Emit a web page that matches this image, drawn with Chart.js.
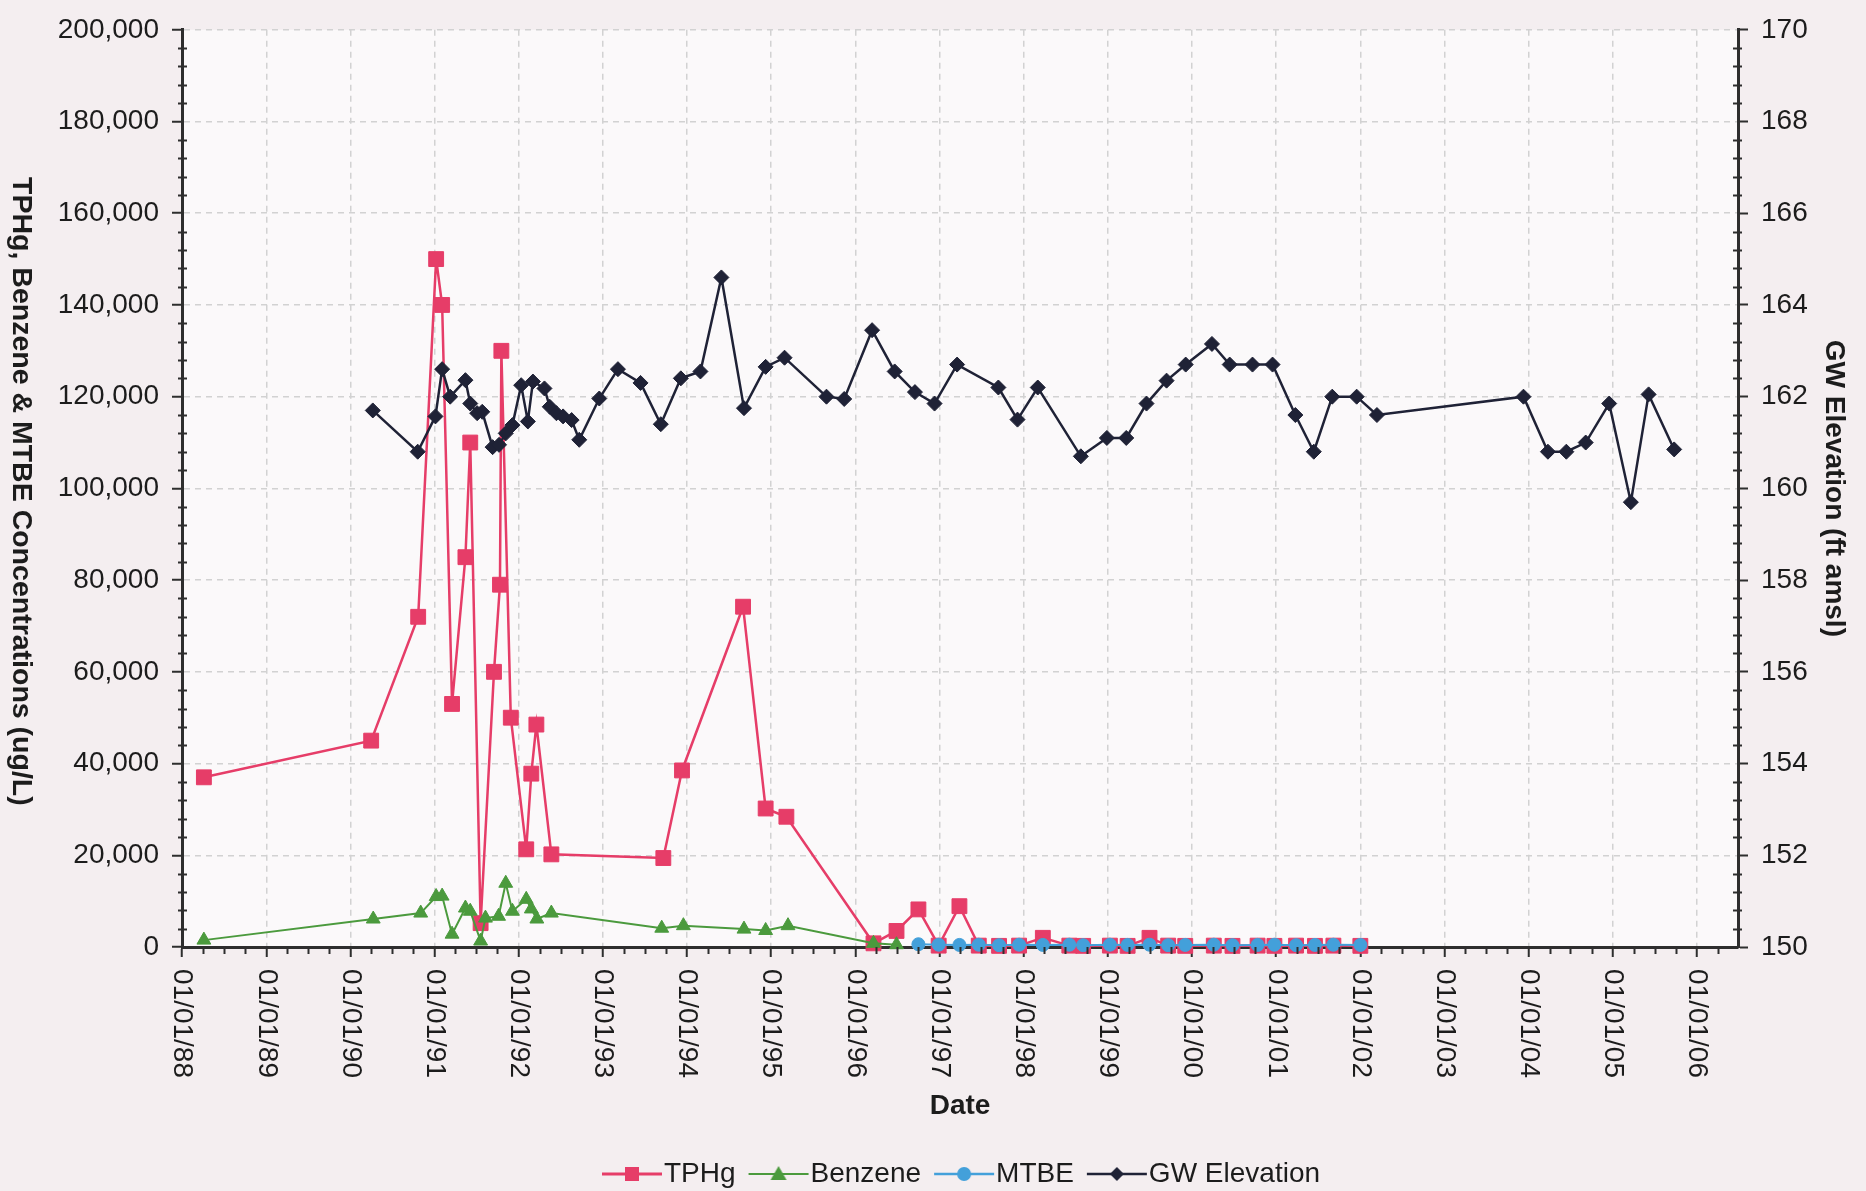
<!DOCTYPE html>
<html><head><meta charset="utf-8">
<script src="https://cdn.jsdelivr.net/npm/chart.js@4.4.1/dist/chart.umd.min.js"></script>
<style>html,body{margin:0;padding:0;background:#f4eef0;}canvas{display:block;}</style>
</head><body>
<canvas id="c" width="1866" height="1191"></canvas>
<script>
// ---------------- DATA ----------------
const xTickLabels = ['01/01/88','01/01/89','01/01/90','01/01/91','01/01/92','01/01/93','01/01/94','01/01/95','01/01/96','01/01/97','01/01/98','01/01/99','01/01/00','01/01/01','01/01/02','01/01/03','01/01/04','01/01/05','01/01/06'];
const concTickLabels = ['0','20,000','40,000','60,000','80,000','100,000','120,000','140,000','160,000','180,000','200,000'];
const elevTickLabels = ['150','152','154','156','158','160','162','164','166','168','170'];

const tphgDates = ['1988-04-05','1990-04-01','1990-10-22','1991-01-08','1991-02-03','1991-03-18','1991-05-15','1991-06-05','1991-07-20','1991-09-16','1991-10-12','1991-10-18','1991-11-28','1992-02-03','1992-02-25','1992-03-18','1992-05-22','1993-09-20','1993-12-10','1994-09-01','1994-12-08','1995-03-08','1996-03-20','1996-06-28','1996-10-01','1996-12-28','1997-03-28','1997-06-20','1997-09-16','1997-12-12','1998-03-25','1998-07-18','1998-09-16','1999-01-10','1999-03-28','1999-07-01','1999-09-20','1999-12-03','2000-04-05','2000-06-25','2000-10-12','2000-12-24','2001-03-28','2001-06-18','2001-09-06','2002-01-01'];
const tphgValues = [37000,45000,72000,150000,140000,53000,85000,110000,5200,60000,79000,130000,50000,21300,37800,48500,20200,19400,38500,74200,30200,28400,800,3500,8200,300,8900,300,250,300,2000,300,250,300,250,2000,300,250,300,250,300,250,300,250,300,250];

const benzeneDates = ['1988-04-05','1990-04-10','1990-11-02','1991-01-08','1991-02-03','1991-03-18','1991-05-15','1991-06-05','1991-07-20','1991-08-10','1991-10-06','1991-11-06','1991-12-05','1992-02-03','1992-02-25','1992-03-20','1992-05-22','1993-09-13','1993-12-16','1994-09-05','1994-12-08','1995-03-15','1996-03-20','1996-06-28'];
const benzeneValues = [1500,6100,7400,11000,11100,2800,8500,7800,1300,6300,6700,13900,7800,10400,8300,6100,7400,4100,4650,3900,3600,4650,800,500];

const mtbeDates = ['1996-10-01','1996-12-28','1997-03-28','1997-06-20','1997-09-16','1997-12-12','1998-03-25','1998-07-18','1998-09-16','1999-01-10','1999-03-28','1999-07-01','1999-09-20','1999-12-03','2000-04-05','2000-06-25','2000-10-12','2000-12-24','2001-03-28','2001-06-18','2001-09-06','2002-01-01'];
const mtbeValues = [600,500,450,500,400,500,450,500,400,500,450,500,400,450,500,400,450,500,400,450,500,450];

const gwDates = ['1990-04-08','1990-10-20','1991-01-05','1991-02-03','1991-03-10','1991-05-15','1991-06-05','1991-07-05','1991-07-27','1991-09-10','1991-10-08','1991-11-06','1991-12-05','1992-01-12','1992-02-10','1992-03-03','1992-04-22','1992-05-15','1992-06-13','1992-07-12','1992-08-18','1992-09-20','1992-12-16','1993-03-07','1993-06-13','1993-09-09','1993-12-05','1994-02-28','1994-05-30','1994-09-05','1994-12-08','1995-02-28','1995-08-29','1995-11-14','1996-03-14','1996-06-20','1996-09-16','1996-12-10','1997-03-18','1997-09-13','1997-12-05','1998-03-03','1998-09-06','1998-12-28','1999-03-22','1999-06-18','1999-09-13','1999-12-05','2000-03-28','2000-06-13','2000-09-20','2000-12-16','2001-03-25','2001-06-13','2001-09-01','2001-12-16','2002-03-14','2003-12-10','2004-03-25','2004-06-13','2004-09-05','2004-12-16','2005-03-20','2005-06-05','2005-09-24'];
const gwValues = [161.7,160.8,161.57,162.6,162.0,162.36,161.85,161.64,161.67,160.9,160.95,161.2,161.38,162.25,161.46,162.33,162.18,161.78,161.64,161.57,161.49,161.06,161.96,162.6,162.3,161.4,162.4,162.55,164.6,161.75,162.65,162.85,162.0,161.95,163.45,162.55,162.1,161.85,162.7,162.2,161.5,162.2,160.7,161.1,161.1,161.85,162.35,162.7,163.15,162.7,162.7,162.7,161.6,160.8,162.0,162.0,161.6,162.0,160.8,160.8,161.0,161.85,159.7,162.05,160.85];

const xAxisStart = '1988-01-01';
const xAxisEnd = '2006-06-28';

// ---------------- STYLE ----------------
const FONT = "'Liberation Sans', Arial, Helvetica, sans-serif";
const TXT = '#1c1c1c';
const PAGE_BG = '#f4eef0';
const PLOT_BG = '#fbf9fa';
const GRID = '#d2d2d2';
const AXIS = '#2e2e2e';
const C_TPHG = '#e63d68';
const C_BENZ = '#4b9a3d';
const C_MTBE = '#43a0da';
const C_GW = '#1f2236';
const FS = 28;

Chart.defaults.font.family = FONT;
Chart.defaults.color = TXT;

const toTime = s => { const [y, m, d] = s.split('-').map(Number); return Date.UTC(y, m - 1, d); };
const tickTime = l => { const [m, d, yy] = l.split('/').map(Number); return Date.UTC(yy < 50 ? 2000 + yy : 1900 + yy, m - 1, d); };
const pts = (dates, vals) => dates.map((d, i) => ({ x: toTime(d), y: vals[i] }));
const num = l => Number(l.replace(/,/g, ''));

function legendIcon(color, shape, lw) {
  const c = document.createElement('canvas');
  c.width = 62; c.height = 24;
  const g = c.getContext('2d');
  g.strokeStyle = color; g.fillStyle = color; g.lineWidth = lw;
  g.beginPath(); g.moveTo(1, 12); g.lineTo(61, 12); g.stroke();
  g.beginPath();
  if (shape === 'rect') { g.rect(24, 5, 14, 14); }
  else if (shape === 'triangle') { g.moveTo(31, 4); g.lineTo(39, 18); g.lineTo(23, 18); g.closePath(); }
  else if (shape === 'circle') { g.arc(31, 12, 7, 0, Math.PI * 2); }
  else { g.moveTo(31, 5); g.lineTo(38, 12); g.lineTo(31, 19); g.lineTo(24, 12); g.closePath(); }
  g.fill();
  return c;
}
const icons = [legendIcon(C_TPHG, 'rect', 3), legendIcon(C_BENZ, 'triangle', 2), legendIcon(C_MTBE, 'circle', 2.5), legendIcon(C_GW, 'diamond', 2.5)];

const bgPlugin = {
  id: 'bg',
  afterLayout(chart) {
    const l = chart.legend;
    if (l) { l.left += 34; l.right += 34; }
  },
  beforeDraw(chart) {
    const { ctx, chartArea: a } = chart;
    ctx.save();
    ctx.fillStyle = PAGE_BG; ctx.fillRect(0, 0, chart.width, chart.height);
    ctx.fillStyle = PLOT_BG; ctx.fillRect(a.left, a.top, a.right - a.left, a.bottom - a.top);
    ctx.restore();
  }
};

const decoPlugin = {
  id: 'deco',
  afterDraw(chart) {
    const { ctx, chartArea: a } = chart;
    const xs = chart.scales.x, ys = chart.scales.y, y2 = chart.scales.y2;
    ctx.save();
    ctx.strokeStyle = AXIS; ctx.lineWidth = 2;
    // minor ticks x (quarterly)
    for (let yr = 1988; yr <= 2006; yr++) {
      [3, 6, 9].forEach(m => {
        const t = Date.UTC(yr, m, 1);
        if (t < xs.min || t > xs.max) return;
        const px = Math.round(xs.getPixelForValue(t)) + 0.5;
        ctx.beginPath(); ctx.moveTo(px, a.bottom); ctx.lineTo(px, a.bottom + 7); ctx.stroke();
      });
    }
    // minor ticks left
    for (let v = 0; v <= ys.max; v += 4000) {
      if (v % 20000 === 0) continue;
      const py = Math.round(ys.getPixelForValue(v)) + 0.5;
      ctx.beginPath(); ctx.moveTo(a.left - 4, py); ctx.lineTo(a.left + 5, py); ctx.stroke();
    }
    // minor ticks right
    for (let k = 0; k <= 50; k++) {
      if (k % 5 === 0) continue;
      const v = y2.min + k * 0.4;
      const py = Math.round(y2.getPixelForValue(v)) + 0.5;
      ctx.beginPath(); ctx.moveTo(a.right - 5, py); ctx.lineTo(a.right + 4, py); ctx.stroke();
    }
    // x tick labels rotated clockwise
    ctx.fillStyle = TXT;
    ctx.font = FS + 'px ' + FONT;
    ctx.textAlign = 'left'; ctx.textBaseline = 'middle';
    xs.ticks.forEach((t, i) => {
      const px = xs.getPixelForValue(t.value);
      ctx.save(); ctx.translate(px, a.bottom + 22); ctx.rotate(Math.PI / 2);
      ctx.fillText(xTickLabels[i], 0, 0); ctx.restore();
    });
    // left axis title, reading top to bottom
    ctx.font = 'bold 28.5px ' + FONT;
    ctx.textAlign = 'center';
    ctx.save(); ctx.translate(21, (a.top + a.bottom) / 2 + 3); ctx.rotate(Math.PI / 2);
    ctx.fillText('TPHg, Benzene & MTBE Concentrations (ug/L)', 0, 0); ctx.restore();
    ctx.restore();
  }
};

const tickGrid = { color: GRID, lineWidth: 1.5, tickLength: 10, tickColor: AXIS, tickWidth: 2, tickBorderDash: [] };

new Chart(document.getElementById('c'), {
  type: 'line',
  data: {
    datasets: [
      { label: 'TPHg', data: pts(tphgDates, tphgValues), yAxisID: 'y', borderColor: C_TPHG, backgroundColor: C_TPHG,
        pointStyle: 'rect', pointRadius: 10.5, pointBorderWidth: 1, borderWidth: 2.5, order: 3, clip: false },
      { label: 'Benzene', data: pts(benzeneDates, benzeneValues), yAxisID: 'y', borderColor: C_BENZ, backgroundColor: C_BENZ,
        pointStyle: 'triangle', pointRadius: 8, pointBorderWidth: 1, borderWidth: 2, order: 2, clip: false },
      { label: 'MTBE', data: pts(mtbeDates, mtbeValues), yAxisID: 'y', borderColor: C_MTBE, backgroundColor: C_MTBE,
        pointStyle: 'circle', pointRadius: 6.5, pointBorderWidth: 1, borderWidth: 2, order: 1, clip: false },
      { label: 'GW Elevation', data: pts(gwDates, gwValues), yAxisID: 'y2', borderColor: C_GW, backgroundColor: C_GW,
        pointStyle: 'rectRot', pointRadius: 7.5, pointBorderWidth: 1, borderWidth: 2.5, order: 0, clip: false }
    ]
  },
  options: {
    responsive: false, animation: false, devicePixelRatio: 1, events: [],
    layout: { padding: { top: 21, left: 0, right: 0, bottom: -7 } },
    plugins: {
      tooltip: { enabled: false },
      legend: {
        position: 'bottom',
        labels: {
          usePointStyle: true, pointStyleWidth: 36, boxHeight: 24, padding: 25,
          font: { size: FS }, color: TXT,
          sort: (a, b) => a.datasetIndex - b.datasetIndex,
          generateLabels: chart => Chart.defaults.plugins.legend.labels.generateLabels(chart).map(it => Object.assign(it, { pointStyle: icons[it.datasetIndex], lineWidth: 0 }))
        }
      }
    },
    scales: {
      x: {
        type: 'linear', position: 'bottom', min: toTime(xAxisStart), max: toTime(xAxisEnd),
        afterBuildTicks: s => { s.ticks = xTickLabels.map(l => ({ value: tickTime(l) })); },
        afterFit: s => { s.height = 188; },
        ticks: { display: false },
        grid: tickGrid,
        border: { display: true, color: AXIS, width: 3, dash: [6, 5] },
        title: { display: true, text: 'Date', font: { size: FS, weight: 'bold' }, color: TXT, padding: { top: 0, bottom: 12 } }
      },
      y: {
        position: 'left', min: 0, max: 200000,
        afterBuildTicks: s => { s.ticks = concTickLabels.map(l => ({ value: num(l) })); },
        afterFit: s => { s.width = 182; },
        ticks: { callback: (v, i) => concTickLabels[i], font: { size: FS }, color: TXT, padding: 13 },
        grid: tickGrid,
        border: { display: true, color: AXIS, width: 3, dash: [6, 5] }
      },
      y2: {
        position: 'right', min: 150, max: 170,
        afterBuildTicks: s => { s.ticks = elevTickLabels.map(l => ({ value: num(l) })); },
        afterFit: s => { s.width = 128; },
        ticks: { callback: (v, i) => elevTickLabels[i], font: { size: FS }, color: TXT, padding: 13 },
        grid: { drawOnChartArea: false, tickLength: 10, tickColor: AXIS, tickWidth: 2 },
        border: { display: true, color: AXIS, width: 3 },
        title: { display: true, text: 'GW Elevation (ft amsl)', font: { size: 28, weight: 'bold' }, color: TXT, padding: { top: 15, bottom: 0 } }
      }
    }
  },
  plugins: [bgPlugin, decoPlugin]
});
</script>
</body></html>
